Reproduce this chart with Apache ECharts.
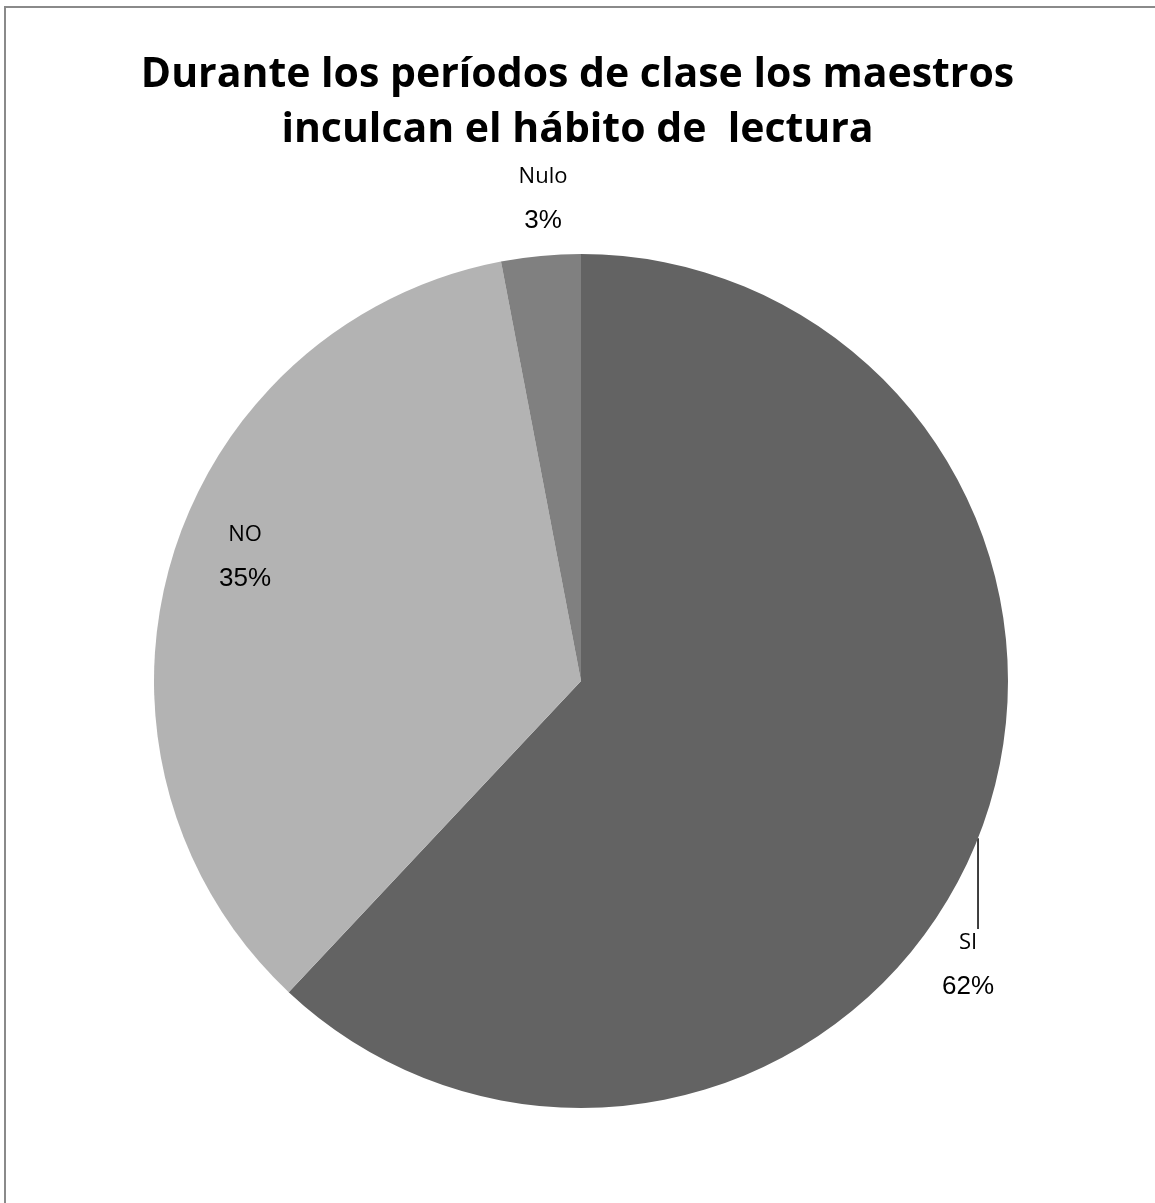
<!DOCTYPE html>
<html>
<head>
<meta charset="utf-8">
<script src="https://cdn.jsdelivr.net/npm/echarts@6/dist/echarts.min.js"></script>
<style>html,body{margin:0;padding:0;background:#fff}#c{width:1155px;height:1203px}</style>
</head>
<body>
<div id="c"></div>
<script>
const titleText = 'Durante los períodos de clase los maestros\ninculcan el hábito de  lectura';
const categories = ['SI', 'NO', 'Nulo'];
const values = [62, 35, 3];
const colors = ['#636363', '#b3b3b3', '#808080'];
// label anchor positions (text placement only)
const labelPos = { 'SI': [968, 965], 'NO': [245, 557], 'Nulo': [543, 199] };

const chart = echarts.init(document.getElementById('c'), null, { renderer: 'canvas' });
chart.setOption({
  animation: false,
  backgroundColor: '#fff',
  title: {
    text: titleText,
    left: 'center',
    top: 43,
    textStyle: { fontFamily: 'Open Sans', fontWeight: 'bold', fontSize: 41, lineHeight: 55, color: '#000' }
  },
  graphic: [{
    type: 'rect', silent: true,
    shape: { x: 5, y: 7, width: 1300, height: 1300 },
    style: { fill: 'none', stroke: '#8a8a8a', lineWidth: 2 }
  }],
  series: [{
    type: 'pie',
    center: [581, 681],
    radius: 427,
    startAngle: 90,
    clockwise: true,
    percentPrecision: 0,
    data: categories.map((c, i) => ({
      name: c, value: values[i],
      itemStyle: { color: colors[i] },
      labelLine: { show: c === 'SI', lineStyle: { color: '#000', width: 1.5 } }
    })),
    itemStyle: { borderWidth: 0 },
    label: {
      show: true,
      position: 'outside',
      fontFamily: 'Open Sans',
      formatter: '{n|{b}}\n{p|{d}%}',
      rich: {
        n: { fontFamily: 'Open Sans', fontSize: 22, lineHeight: 44, color: '#000' },
        p: { fontFamily: 'Liberation Sans', fontSize: 26, lineHeight: 44, color: '#000' }
      }
    },
    labelLine: { show: false },
    labelLayout: function (params) {
      const name = categories[params.dataIndex];
      const pos = labelPos[name];
      const out = { x: pos[0], y: pos[1], align: 'center', verticalAlign: 'middle' };
      if (name === 'SI' && params.labelLinePoints) {
        const p0 = params.labelLinePoints[0];
        const top = pos[1] - params.labelRect.height / 2 - 2;
        out.labelLinePoints = [[p0[0], p0[1]], [p0[0], top], [p0[0], top]];
      }
      return out;
    }
  }]
});
</script>
</body>
</html>
